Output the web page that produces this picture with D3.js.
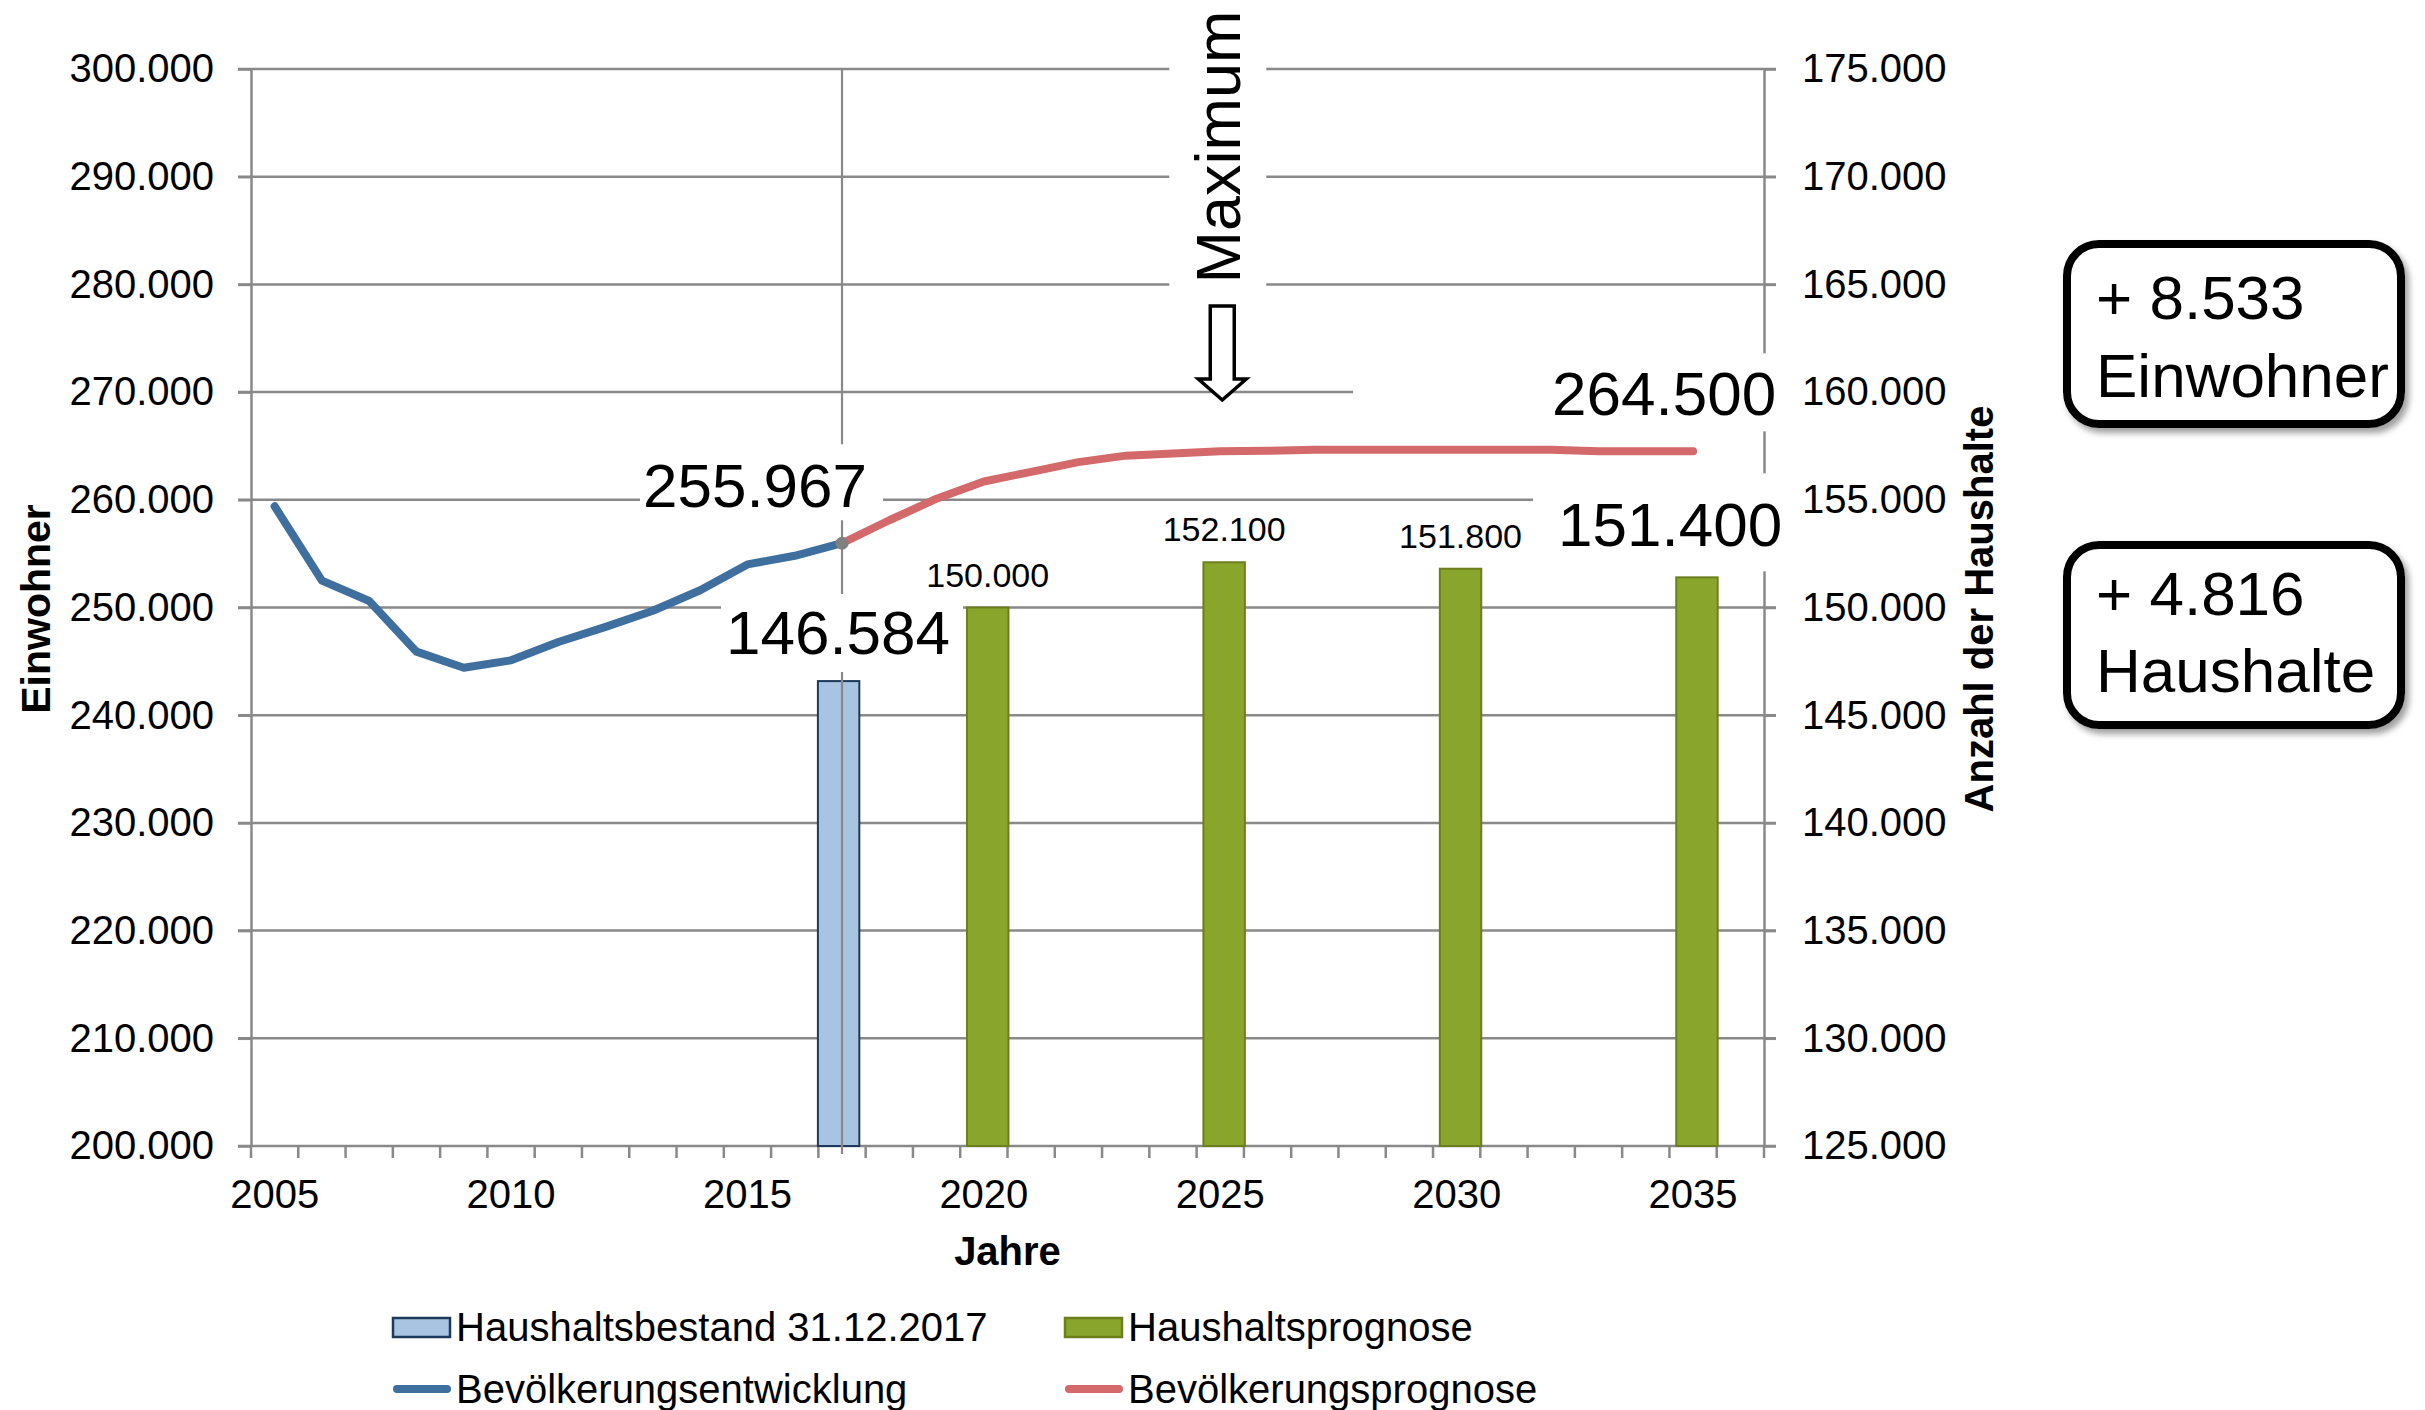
<!DOCTYPE html>
<html><head><meta charset="utf-8">
<script src="https://cdn.jsdelivr.net/npm/d3@7"></script>
<style>html,body{margin:0;padding:0;background:#fff;} svg{display:block;font-family:"Liberation Sans",Arial,sans-serif;}</style>
</head><body><svg id="c" width="2425" height="1410"></svg>
<script>
// ---------- data ----------
const categories = [2005,2006,2007,2008,2009,2010,2011,2012,2013,2014,2015,2016,2017,2018,2019,2020,
  2021,2022,2023,2024,2025,2026,2027,2028,2029,2030,2031,2032,2033,2034,2035,2036];
const xLabelYears = [2005,2010,2015,2020,2025,2030,2035];
const leftTicks = [200000,210000,220000,230000,240000,250000,260000,270000,280000,290000,300000];
const rightTicks = [125000,130000,135000,140000,145000,150000,155000,160000,165000,170000,175000];

const histYears = [2005,2006,2007,2008,2009,2010,2011,2012,2013,2014,2015,2016,2017];
const histValues = [259400,252500,250600,245900,244400,245100,246800,248200,249700,251600,254000,254800,255967];
const progYears = [2017,2018,2019,2020,2021,2022,2023,2024,2025,2026,2027,2028,2029,2030,2031,2032,2033,2034,2035];
const progValues = [255967,258100,260100,261700,262600,263500,264100,264300,264500,264550,264650,264650,264650,264650,264650,264650,264500,264500,264500];

const bestandYears = [2017];
const bestandValues = [146584];
const prognoseYears = [2020,2025,2030,2035];
const prognoseValues = [150000,152100,151800,151400];

const legendNames = ["Haushaltsbestand 31.12.2017","Haushaltsprognose","Bevölkerungsentwicklung","Bevölkerungsprognose"];

// ---------- setup ----------
const svg = d3.select("#c");
const C = {grid:"#898989", blueLine:"#3F6F9E", redLine:"#D4696B", green:"#8AA52B", greenStroke:"#6C7E1E",
  lightBlue:"#A8C4E1", lightBlueStroke:"#1E3A5A"};
const x = d3.scaleBand().domain(categories).range([251,1764]);
const bw = x.bandwidth();
const cx = yr => x(yr) + bw/2;
const yL = d3.scaleLinear().domain([200000,300000]).range([1146,69]);
const yR = d3.scaleLinear().domain([125000,175000]).range([1146,69]);
const fmt = d3.formatLocale({decimal:",",thousands:".",grouping:[3],currency:["","€"]}).format(",d");

const defs = svg.append("defs");
const f = defs.append("filter").attr("id","sh").attr("x","-10%").attr("y","-10%").attr("width","130%").attr("height","130%");
f.append("feDropShadow").attr("dx",4).attr("dy",5).attr("stdDeviation",3).attr("flood-color","#777").attr("flood-opacity",0.7);

// grid lines
svg.append("g").selectAll("line").data(leftTicks).join("line")
  .attr("x1",238).attr("x2",1776).attr("y1",d=>yL(d)).attr("y2",d=>yL(d))
  .attr("stroke",C.grid).attr("stroke-width",2.5);

// left axis
const gL = svg.append("g").attr("transform","translate(251,0)")
  .call(d3.axisLeft(yL).tickValues(leftTicks).tickFormat(fmt).tickSize(13).tickSizeOuter(0).tickPadding(24));
// right axis
const gR = svg.append("g").attr("transform","translate(1764,0)")
  .call(d3.axisRight(yR).tickValues(rightTicks).tickFormat(fmt).tickSize(12).tickSizeOuter(0).tickPadding(26));
// bottom axis labels
const gB = svg.append("g").attr("transform","translate(0,1146)")
  .call(d3.axisBottom(x).tickValues(xLabelYears).tickSize(0).tickPadding(34));
gB.select(".domain").remove();
[gL,gR,gB].forEach(g=>{
  g.selectAll(".domain").attr("stroke",C.grid).attr("stroke-width",2.5);
  g.selectAll(".tick line").attr("stroke",C.grid).attr("stroke-width",2.5);
  g.selectAll("text").attr("font-size",40).attr("fill","#000").attr("font-family","Liberation Sans, Arial, sans-serif");
});
// category tick marks at band boundaries
const bounds = categories.map(c=>x(c)).concat([x.range()[1]]);
svg.append("g").selectAll("line").data(bounds).join("line")
  .attr("x1",d=>d).attr("x2",d=>d).attr("y1",1146).attr("y2",1158)
  .attr("stroke",C.grid).attr("stroke-width",2.5);

// axis titles
svg.append("text").attr("transform","translate(50,609) rotate(-90)").attr("text-anchor","middle")
  .attr("font-size",41).attr("font-weight","bold").text("Einwohner");
svg.append("text").attr("transform","translate(1993,609) rotate(-90)").attr("text-anchor","middle")
  .attr("font-size",40).attr("font-weight","bold").text("Anzahl der Haushalte");
svg.append("text").attr("x",(x.range()[0]+x.range()[1])/2).attr("y",1265).attr("text-anchor","middle")
  .attr("font-size",40).attr("font-weight","bold").text("Jahre");

// white label boxes (hide grid lines behind big labels)
function whiteBox(xc, yb, box){
  svg.append("rect").attr("x",xc+box[0]).attr("width",box[1]-box[0])
    .attr("y",yb+box[2]).attr("height",box[3]-box[2]).attr("fill","#fff");
}
const lastProg = progValues[progValues.length-1];
const lastBar = prognoseValues[prognoseValues.length-1];
const lastBarYear = prognoseYears[prognoseYears.length-1];
const L = {
  a:{t:fmt(255967), x:cx(2017)-87, y:yL(255967)-36, box:[-115,128,-63,13]},
  b:{t:fmt(bestandValues[0]), x:cx(2017)-4, y:yR(bestandValues[0])-27, box:[-117,125,-60,18]},
  c:{t:fmt(lastProg), x:cx(2035)-29, y:yL(lastProg)-36, box:[-311,116,-62,16]},
  d:{t:fmt(lastBar), x:cx(lastBarYear)-23, y:yR(lastBar)-31, box:[-137,115,-73,25]}
};
Object.values(L).forEach(l=>whiteBox(l.x,l.y,l.box));

// bars
const barW = bw*0.876;
svg.append("g").selectAll("rect").data(bestandYears.map((yr,i)=>({yr,v:bestandValues[i]}))).join("rect")
  .attr("x",d=>x(d.yr)-bw*0.01).attr("width",barW)
  .attr("y",d=>yR(d.v)).attr("height",d=>yR.range()[0]-yR(d.v))
  .attr("fill",C.lightBlue).attr("stroke",C.lightBlueStroke).attr("stroke-width",2);
const progBars = prognoseYears.map((yr,i)=>({yr,v:prognoseValues[i]}));
svg.append("g").selectAll("rect").data(progBars).join("rect")
  .attr("x",d=>x(d.yr)+bw*0.144).attr("width",barW)
  .attr("y",d=>yR(d.v)).attr("height",d=>yR.range()[0]-yR(d.v))
  .attr("fill",C.green).attr("stroke",C.greenStroke).attr("stroke-width",2);

// vertical line at 2017 (with gaps behind the labels)
const vx = cx(2017);
const vSegs = [[yL.range()[1], L.a.y+L.a.box[2]],[L.a.y+L.a.box[3], L.b.y+L.b.box[2]],[L.b.y+L.b.box[3],1154]];
svg.append("g").selectAll("line").data(vSegs).join("line")
  .attr("x1",vx).attr("x2",vx).attr("y1",d=>d[0]).attr("y2",d=>d[1])
  .attr("stroke",C.grid).attr("stroke-width",2.2);

// lines
const line = d3.line().x(d=>cx(d[0])).y(d=>yL(d[1]));
svg.append("path").datum(histYears.map((yr,i)=>[yr,histValues[i]])).attr("d",line)
  .attr("fill","none").attr("stroke",C.blueLine).attr("stroke-width",8).attr("stroke-linejoin","round").attr("stroke-linecap","round");
svg.append("path").datum(progYears.map((yr,i)=>[yr,progValues[i]])).attr("d",line)
  .attr("fill","none").attr("stroke",C.redLine).attr("stroke-width",8).attr("stroke-linejoin","round").attr("stroke-linecap","round");
svg.append("circle").attr("cx",cx(2017)).attr("cy",yL(255967)).attr("r",6.5).attr("fill","#808080");

// label texts
function label(txt, xc, yb, size){
  svg.append("text").attr("x",xc).attr("y",yb).attr("text-anchor","middle").attr("font-size",size).attr("fill","#000").text(txt);
}
Object.values(L).forEach(l=>label(l.t,l.x,l.y,62));
progBars.slice(0,-1).forEach(d=>label(fmt(d.v), x(d.yr)+bw*0.144+barW/2, yR(d.v)-21, 34));

// Maximum annotation
const mx = cx(2025);
svg.append("rect").attr("x",mx-51).attr("y",0).attr("width",97).attr("height",296).attr("fill","#fff");
svg.append("text").attr("transform",`translate(${mx+20},147) rotate(-90)`).attr("text-anchor","middle")
  .attr("font-size",63).attr("fill","#000").text("Maximum");
const ax = mx+2;
svg.append("path").attr("d",`M${ax-12},306 L${ax+12},306 L${ax+12},379 L${ax+24},379 L${ax},400 L${ax-24},379 L${ax-12},379 Z`)
  .attr("fill","#fff").attr("stroke","#000").attr("stroke-width",3.5).attr("stroke-linejoin","miter");

// right side boxes
const boxes = [{y:244, l1:"+ 8.533", l2:"Einwohner", b1:319, b2:397},{y:545, l1:"+ 4.816", l2:"Haushalte", b1:615, b2:692}];
boxes.forEach(b=>{
  svg.append("rect").attr("x",2067).attr("y",b.y).attr("width",334).attr("height",180).attr("rx",32)
    .attr("fill","#fff").attr("stroke","#000").attr("stroke-width",8).attr("filter","url(#sh)");
  svg.append("text").attr("x",2096).attr("y",b.b1).attr("font-size",62).text(b.l1);
  svg.append("text").attr("x",2096).attr("y",b.b2).attr("font-size",62).text(b.l2);
});

// legend
const leg = [
  {type:"rect", fill:C.lightBlue, stroke:C.lightBlueStroke, x:393, y:1327},
  {type:"rect", fill:C.green, stroke:C.greenStroke, x:1065, y:1327},
  {type:"line", stroke:C.blueLine, x:393, y:1389},
  {type:"line", stroke:C.redLine, x:1065, y:1389}
];
leg.forEach((d,i)=>{
  if(d.type==="rect"){
    svg.append("rect").attr("x",d.x).attr("y",d.y-9).attr("width",57).attr("height",19)
      .attr("fill",d.fill).attr("stroke",d.stroke).attr("stroke-width",2.5);
  } else {
    svg.append("line").attr("x1",d.x+4).attr("x2",d.x+54).attr("y1",d.y).attr("y2",d.y)
      .attr("stroke",d.stroke).attr("stroke-width",8).attr("stroke-linecap","round");
  }
  svg.append("text").attr("x",d.x+63).attr("y",d.y+14).attr("font-size",40).text(legendNames[i]);
});
</script></body></html>
